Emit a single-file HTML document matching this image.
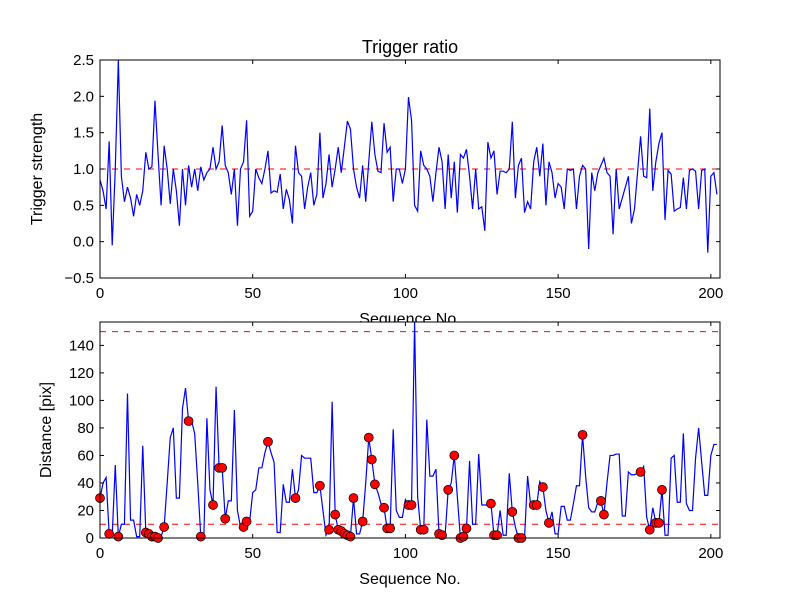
<!DOCTYPE html>
<html><head><meta charset="utf-8"><style>
html,body{margin:0;padding:0;background:#fff}
svg{display:block;font-family:"Liberation Sans","DejaVu Sans",sans-serif}
</style></head><body>
<svg id="chart" width="800" height="600" viewBox="0 0 800 600" xmlns="http://www.w3.org/2000/svg">
<rect width="800" height="600" fill="#fff"/>
</svg>
<script>
const strength = [0.85,0.7,0.45,1.38,-0.05,1.0,2.5,0.9,0.55,0.75,0.6,0.35,0.65,0.5,0.7,1.23,1.0,1.03,1.94,1.2,0.5,1.32,1.0,0.52,1.0,0.7,0.22,1.0,0.5,1.05,0.75,1.0,0.7,1.03,0.85,0.95,1.0,1.3,1.0,1.1,1.6,1.05,0.95,0.65,1.0,0.22,1.0,1.1,1.67,0.35,0.42,1.0,0.88,0.8,1.0,1.25,0.67,0.7,0.68,0.93,0.45,0.72,0.58,0.25,1.32,0.95,0.9,0.45,0.75,0.95,0.5,0.65,1.5,0.6,0.8,1.2,0.75,1.0,1.3,0.95,1.3,1.66,1.55,1.0,0.75,0.6,1.05,0.55,1.1,1.65,1.2,0.97,0.95,1.63,1.23,1.3,0.55,1.0,1.0,0.8,1.0,1.99,1.67,0.5,0.42,1.25,1.05,1.0,0.9,0.55,0.95,1.3,1.1,0.45,1.2,0.6,1.1,0.4,1.2,1.15,1.27,0.9,0.45,1.0,0.45,0.48,0.15,1.37,1.15,1.25,0.65,0.97,0.97,0.95,1.0,1.65,0.6,1.05,1.15,0.4,0.55,0.45,1.1,1.3,0.9,1.35,0.5,1.1,0.95,0.6,0.8,0.75,0.45,1.0,0.98,1.0,0.45,0.9,1.05,1.0,-0.1,0.95,0.7,0.95,1.05,1.15,0.95,0.9,0.1,1.0,0.45,0.6,0.75,0.9,0.25,0.45,0.95,1.45,0.9,0.88,1.83,0.7,1.1,1.35,1.5,0.3,0.98,0.93,0.42,0.45,0.47,0.88,0.45,0.98,1.0,0.97,0.45,0.98,1.0,-0.15,0.9,0.95,0.65];
const distance = [29,40,44,3,2,53,1,10,10,105,13,13,1,1,67,4,3,1,1,0,1,8,40,73,80,29,29,94,109,85,85,76,40,1,1,87,35,24,110,51,51,14,27,27,93,20,8,8,12,12,33,35,51,51,62,70,62,55,4,4,39,26,26,50,29,35,60,58,58,58,33,33,38,20,2,6,99,17,6,5,3,2,1,29,3,3,12,40,73,57,39,33,25,22,7,7,79,20,15,15,28,24,24,157,30,6,6,86,45,45,50,3,2,2,35,40,60,30,0,1,7,56,10,10,61,24,24,24,25,2,2,20,2,2,47,19,8,0,0,0,45,24,24,24,41,37,20,11,19,3,3,23,23,13,13,25,38,38,75,45,22,19,19,26,27,17,40,60,60,61,61,16,16,48,46,46,47,48,52,15,6,22,11,11,35,2,2,58,60,26,26,76,25,20,20,58,80,55,31,31,60,68,68];
const dotIdx = [0,3,6,15,16,17,18,19,21,29,33,37,39,40,41,47,48,55,64,72,75,77,78,79,80,81,82,83,86,88,89,90,93,94,95,101,102,105,106,111,112,114,116,118,119,120,128,129,130,135,137,138,142,143,145,147,158,164,165,177,180,182,183,184];
const xTicks = [0,50,100,150,200];
const topYTicks = [-0.5,0.0,0.5,1.0,1.5,2.0,2.5];
const botYTicks = [0,20,40,60,80,100,120,140];
const topThresh = [1.0];
const botThresh = [10,150];

const svg = document.getElementById('chart');
const NS = 'http://www.w3.org/2000/svg';
function mk(tag, attrs, parent){const e=document.createElementNS(NS,tag);for(const k in attrs)e.setAttribute(k,attrs[k]);(parent||svg).appendChild(e);return e;}
const L=100,R=720,XMAX=203;
const xs = v => L + v/XMAX*(R-L);
const T1=60,B1=278,Y1MIN=-0.5,Y1MAX=2.5;
const y1 = v => B1 - (v-Y1MIN)/(Y1MAX-Y1MIN)*(B1-T1);
const T2=322,B2=538,Y2MAX=157;
const y2 = v => B2 - v/Y2MAX*(B2-T2);

function axesFrame(top,bottom,yTicks,yf,fmt,name){
  const g=mk('g',{});
  
  
  mk('rect',{x:L,y:top,width:R-L,height:bottom-top,fill:'#fff'},g);
  return g;
}
function axesDecor(g,top,bottom,yTicks,yf,fmt){
  mk('rect',{x:L,y:top,width:R-L,height:bottom-top,fill:'none',stroke:'#000','stroke-width':1},g);
  xTicks.forEach(t=>{const x=xs(t);
    mk('line',{x1:x,x2:x,y1:bottom,y2:bottom-4,stroke:'#000'},g);
    mk('line',{x1:x,x2:x,y1:top,y2:top+4,stroke:'#000'},g);
    const tx=mk('text',{x:x,y:bottom+20,'text-anchor':'middle','font-size':15},g);tx.textContent=t;
    
    
  });
  yTicks.forEach(t=>{const y=yf(t);
    mk('line',{x1:L,x2:L+4,y1:y,y2:y,stroke:'#000'},g);
    mk('line',{x1:R,x2:R-4,y1:y,y2:y,stroke:'#000'},g);
    const tx=mk('text',{x:L-6,y:y+5,'text-anchor':'end','font-size':15},g);tx.textContent=fmt(t);
    
    
  });
}

// Top axes
const g1=axesFrame(T1,B1,topYTicks,y1,null,'trigger-ratio-axes');
topThresh.forEach(v=>{const l=mk('line',{x1:L,x2:R,y1:y1(v),y2:y1(v),stroke:'#f00','stroke-width':1,'stroke-dasharray':'6,6'},g1);
  
  });
const p1=mk('polyline',{points:strength.map((v,i)=>xs(i)+','+y1(v)).join(' '),fill:'none',stroke:'#00f','stroke-width':1.2},g1);


axesDecor(g1,T1,B1,topYTicks,y1,t=>t.toFixed(1).replace('-','\u2212'));
let t;
t=mk('text',{x:410,y:53,'text-anchor':'middle','font-size':18});t.textContent='Trigger ratio';


t=mk('text',{x:410,y:324,'text-anchor':'middle','font-size':16});t.textContent='Sequence No.';


t=mk('text',{x:0,y:0,'text-anchor':'middle','font-size':16,transform:'translate(42,169) rotate(-90)'});t.textContent='Trigger strength';



// Bottom axes
const g2=axesFrame(T2,B2,botYTicks,y2,null,'distance-axes');
const cp=mk('clipPath',{id:'c2'},g2);mk('rect',{x:L,y:T2,width:R-L,height:B2-T2},cp);
const inner=mk('g',{'clip-path':'url(#c2)'},g2);
botThresh.forEach(v=>{const l=mk('line',{x1:L,x2:R,y1:y2(v),y2:y2(v),stroke:'#f00','stroke-width':1,'stroke-dasharray':'6,6'},inner);
  
  });
const p2=mk('polyline',{points:distance.map((v,i)=>xs(i)+','+y2(v)).join(' '),fill:'none',stroke:'#00f','stroke-width':1.2},inner);


dotIdx.forEach(i=>{const c=mk('circle',{cx:xs(i),cy:y2(distance[i]),r:4.5,fill:'#f00',stroke:'#000','stroke-width':0.7},g2);
  
  });
axesDecor(g2,T2,B2,botYTicks,y2,t=>String(t));
t=mk('text',{x:410,y:584,'text-anchor':'middle','font-size':16});t.textContent='Sequence No.';


t=mk('text',{x:0,y:0,'text-anchor':'middle','font-size':16,transform:'translate(51,430) rotate(-90)'});t.textContent='Distance [pix]';


</script>
</body></html>
